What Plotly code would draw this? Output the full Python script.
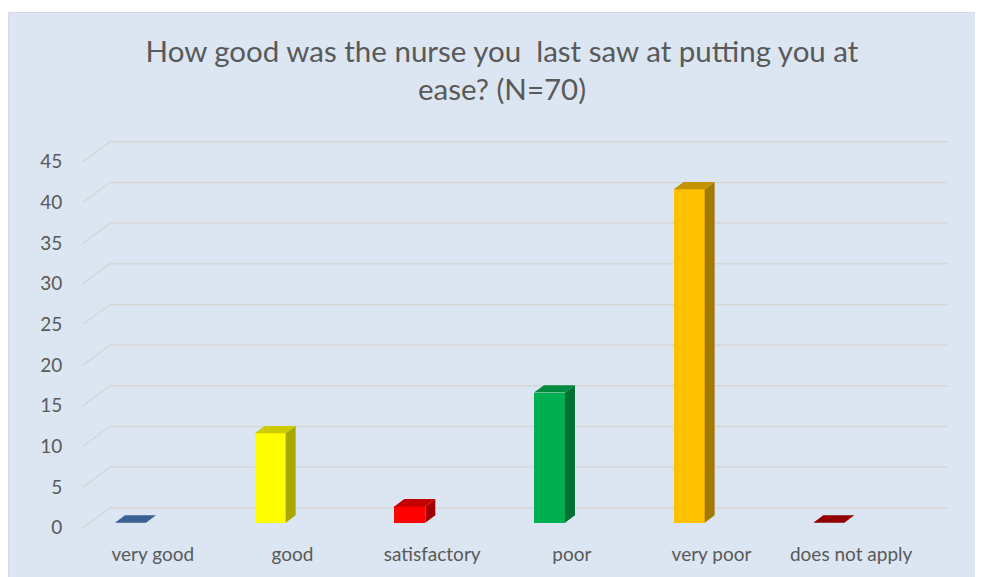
import plotly.graph_objects as go

# ---------------- data ----------------
categories = ["very good", "good", "satisfactory", "poor", "very poor", "does not apply"]
counts = [0, 11, 2, 16, 41, 0]
y_ticks = [0, 5, 10, 15, 20, 25, 30, 35, 40, 45]
title_text = "How good was the nurse you  last saw at putting you at<br>ease? (N=70)"

front_colors = ["#4F81BD", "#FFFF00", "#FF0000", "#00B050", "#FFC000", "#C00000"]
top_colors = ["#3A6193", "#CCCC00", "#C40000", "#008A3E", "#C49300", "#920000"]
side_colors = ["#2F5078", "#A8A800", "#A00000", "#007033", "#A37A00", "#760000"]

# ---------------- 3-D look (pseudo perspective) ----------------
DX = 0.1933      # depth offset of the back wall, in category units
DY = 2.459       # depth offset of the back wall, in value units
BAR_SHIFT = -0.16
BAR_W = 0.222
Z0 = 0.25        # front of the bars (fraction of depth)
ZD = 0.37        # bar depth (fraction of depth)

# page body has an 8px margin, so the figure is placed at (8, 8)
W, H = 975, 569
L, R, T, B = 75, 35, 131, 46
x_range = [-0.5, len(categories) - 0.5 + DX]
y_range = [-0.4, 47.8]

TEXT = "#595959"
BG = "#DCE6F2"
GRID = "#D6D6D6"
FONT = "Lato, Open Sans, sans-serif"

fig = go.Figure()

# front faces
base = Z0 * DY
fig.add_trace(go.Bar(
    x=[i + BAR_SHIFT for i in range(len(categories))],
    y=counts,
    base=base,
    width=BAR_W,
    marker=dict(color=front_colors, line=dict(width=0)),
    hoverinfo="skip",
    showlegend=False,
))

bdx, bdy = ZD * DX, ZD * DY
for i, v in enumerate(counts):
    xl = i + BAR_SHIFT - BAR_W / 2
    xr = i + BAR_SHIFT + BAR_W / 2
    top = base + v
    if v > 0:
        fig.add_trace(go.Scatter(
            x=[xr, xr, xr + bdx, xr + bdx, xr],
            y=[base, top, top + bdy, base + bdy, base],
            fill="toself", fillcolor=side_colors[i], mode="lines",
            line=dict(width=0, color=side_colors[i]),
            hoverinfo="skip", showlegend=False,
        ))
    fig.add_trace(go.Scatter(
        x=[xl, xr, xr + bdx, xl + bdx, xl],
        y=[top, top, top + bdy, top + bdy, top],
        fill="toself", fillcolor=top_colors[i], mode="lines",
        line=dict(width=0, color=top_colors[i]),
        hoverinfo="skip", showlegend=False,
    ))

# background panel (figure pixels -> paper coords)
pw = W - L - R
ph = H - T - B
def px_to_paper_x(px):
    return (px - L) / pw
def px_to_paper_y(py):
    return (H - B - py) / ph

shapes = [dict(
    type="rect", xref="paper", yref="paper", layer="below",
    x0=px_to_paper_x(0.5), x1=px_to_paper_x(W + 4),
    y0=px_to_paper_y(H + 4), y1=px_to_paper_y(4.5),
    fillcolor=BG, line=dict(color="#D9D9D9", width=1),
)]
x0 = x_range[0]
x1 = len(categories) - 0.5
for v in y_ticks:
    shapes.append(dict(
        type="path", xref="x", yref="y", layer="below",
        path=f"M {x0},{v} L {x0 + DX},{v + DY} L {x1 + DX},{v + DY}",
        line=dict(color=GRID, width=1.5),
    ))

fig.update_layout(
    width=W, height=H,
    margin=dict(l=L, r=R, t=T, b=B),
    paper_bgcolor="white",
    plot_bgcolor="rgba(0,0,0,0)",
    font=dict(family=FONT, color=TEXT, size=19),
    title=dict(
        text=title_text, xref="container", yref="container",
        x=494 / W, xanchor="center", y=1 - 54 / H, yanchor="top",
        font=dict(size=29.5, color=TEXT, family=FONT),
    ),
    shapes=shapes,
    showlegend=False,
    bargap=0,
    xaxis=dict(
        range=x_range, showgrid=False, zeroline=False, showline=False,
        tickmode="array", tickvals=list(range(len(categories))), ticktext=categories,
        ticks="outside", ticklen=6, tickcolor="rgba(0,0,0,0)",
        tickfont=dict(size=19, color=TEXT), fixedrange=True,
    ),
    yaxis=dict(
        range=y_range, showgrid=False, zeroline=False, showline=False,
        tickmode="array", tickvals=y_ticks, ticktext=[str(t) for t in y_ticks],
        ticks="outside", ticklen=16, tickcolor="rgba(0,0,0,0)",
        tickfont=dict(size=19, color=TEXT), fixedrange=True,
    ),
)

fig.write_html("out.html", config={"displayModeBar": False})
